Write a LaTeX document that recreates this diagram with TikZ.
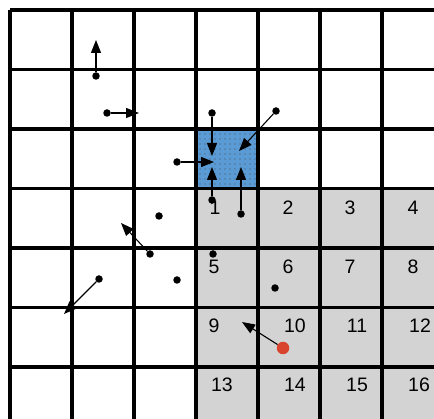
\documentclass[tikz,border=0pt]{standalone}
\usepackage{fontspec}
\setsansfont{Liberation Sans}
\usetikzlibrary{arrows.meta, patterns.meta}
\definecolor{cellblue}{HTML}{5B9BD5}
\definecolor{cellgray}{HTML}{D3D3D3}
\definecolor{target}{HTML}{D9442E}
\tikzset{
  particle/.style={circle, fill=black, inner sep=0pt, minimum size=7.5pt},
  move/.style={-{Triangle[length=13pt, width=10pt]}, line width=1.1pt},
  cellnum/.style={font=\sffamily\fontsize{19.5}{19.5}\selectfont}
}

\begin{document}
\begin{tikzpicture}[x=1pt, y=-1pt]

\useasboundingbox (0,0) rectangle (434,419);
\fill[white] (0,0) rectangle (434,419);

% Grey block of numbered cells
\fill[cellgray] (196,188.5) rectangle (434,419);

% Blue cell with dotted texture
\fill[cellblue] (196,129) rectangle (258,188.5);
\fill[pattern={Dots[distance=5pt, radius=0.65pt]}, pattern color=black!70]
  (196,129) rectangle (258,188.5);

% Grid lines
\foreach \gx in {10,72,134,196,258,320,382}
  \draw[line width=3.2pt] (\gx,10) -- (\gx,419);
\foreach \gy in {10,69.5,129,188.5,248,307.5,367}
  \draw[line width=3.2pt] (10,\gy) -- (434,\gy);

% Cell numbers
\node[cellnum] (n1)  at (215,208) {1};
\node[cellnum] (n2)  at (288,208) {2};
\node[cellnum] (n3)  at (350,208) {3};
\node[cellnum] (n4)  at (413,208) {4};
\node[cellnum] (n5)  at (214,267) {5};
\node[cellnum] (n6)  at (288,267) {6};
\node[cellnum] (n7)  at (350,267) {7};
\node[cellnum] (n8)  at (413,267) {8};
\node[cellnum] (n9)  at (214,326) {9};
\node[cellnum] (n10) at (295,326) {10};
\node[cellnum] (n11) at (357,326) {11};
\node[cellnum] (n12) at (420,326) {12};
\node[cellnum] (n13) at (222,385) {13};
\node[cellnum] (n14) at (295,385) {14};
\node[cellnum] (n15) at (357,385) {15};
\node[cellnum] (n16) at (419,385) {16};

% Particles
\node[particle] (p1)  at (96,76) {};
\node[particle] (p2)  at (107,113) {};
\node[particle] (p3)  at (177,162) {};
\node[particle] (p4)  at (212,113) {};
\node[particle] (p5)  at (276,111) {};
\node[particle] (p6)  at (212,200) {};
\node[particle] (p7)  at (241,214) {};
\node[particle] (p8)  at (150,254) {};
\node[particle] (p9)  at (99,279) {};
\node[particle] (q1)  at (159,216) {};
\node[particle] (q2)  at (177,280) {};
\node[particle] (q3)  at (213,254) {};
\node[particle] (q4)  at (275,288) {};
\node[particle, fill=target, minimum size=12.5pt] (goal) at (283,348) {};

% Arrow tips
\coordinate (t1)  at (96,40);
\coordinate (t2)  at (139,113);
\coordinate (t3)  at (214,162);
\coordinate (t4)  at (212,156);
\coordinate (t5)  at (239,151);
\coordinate (t6)  at (212,167);
\coordinate (t7)  at (241,167);
\coordinate (t8)  at (121,223);
\coordinate (t9)  at (64,314);
\coordinate (t10) at (242,322);

% Moves
\draw[move] (p1) -- (t1);
\draw[move] (p2) -- (t2);
\draw[move] (p3) -- (t3);
\draw[move] (p4) -- (t4);
\draw[move] (p5) -- (t5);
\draw[move] (p6) -- (t6);
\draw[move] (p7) -- (t7);
\draw[move] (p8) -- (t8);
\draw[move] (p9) -- (t9);
\draw[move] (goal) -- (t10);

\end{tikzpicture}
\end{document}
